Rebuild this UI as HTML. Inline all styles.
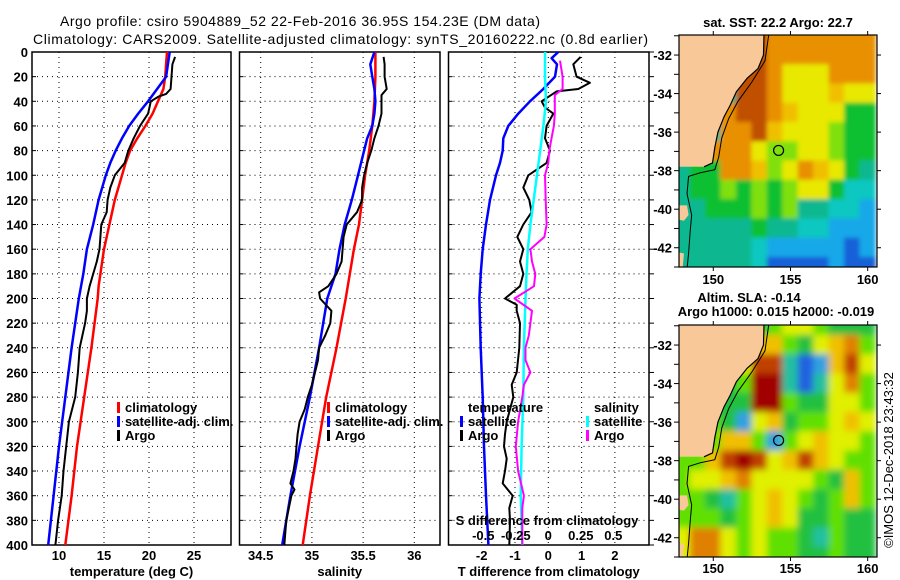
<!DOCTYPE html>
<html><head><meta charset="utf-8"><title>Argo profile</title>
<style>
html,body{margin:0;padding:0;background:#fff;}
svg{display:block;font-family:"Liberation Sans",sans-serif;}
.t{font-weight:bold;font-size:13px;fill:#000;}
</style></head>
<body>
<svg id="fig" width="900" height="580" viewBox="0 0 900 580" xmlns="http://www.w3.org/2000/svg">
<defs>
<clipPath id="clipMap1"><rect x="679" y="35" width="198" height="232"/></clipPath>
<clipPath id="clipMap2"><rect x="679" y="325" width="198" height="232"/></clipPath>
<filter id="blurSST" x="-5%" y="-5%" width="110%" height="110%"><feGaussianBlur stdDeviation="2"/></filter>
<filter id="blurSLA" x="-5%" y="-5%" width="110%" height="110%"><feGaussianBlur stdDeviation="3.5"/></filter>
</defs>
<text x="60" y="26" font-size="14" textLength="480">Argo profile: csiro 5904889_52 22-Feb-2016 36.95S 154.23E (DM data)</text>
<text x="33" y="44" font-size="14" textLength="615">Climatology: CARS2009. Satellite-adjusted climatology: synTS_20160222.nc (0.8d earlier)</text>
<g id="layer"></g>
</svg>
<script>
// ---------- profile data ----------
const redTDepth=[0,10,20,30,40,50,60,70,80,90,100,110,120,130,140,150,160,170,180,190,200,240,280,320,360,400];
const redT=[22.0,21.9,21.8,21.6,21.0,20.4,19.6,18.7,17.9,17.4,17.0,16.6,16.2,15.9,15.6,15.3,15.0,14.8,14.6,14.4,14.3,13.6,12.8,12.0,11.4,10.7];
const blueTDepth=[0,10,20,30,40,50,60,70,80,90,100,120,140,160,180,200,240,280,320,360,400];
const blueT=[22.3,22.1,21.9,20.9,19.9,18.8,17.8,17.0,16.3,15.7,15.2,14.4,13.8,13.1,12.7,12.2,11.4,10.7,10.0,9.4,8.8];
const argoTDepth=[4,10,20,30,34,36,40,50,60,70,80,90,100,110,120,130,140,150,160,170,180,190,200,210,220,240,260,280,300,320,340,350,360,380,400];
const argoT=[22.9,22.6,22.5,22.4,21.9,21.1,20.2,19.9,19.0,18.3,17.7,17.3,16.2,15.7,15.4,15.3,14.7,14.6,14.5,14.2,13.8,13.4,13.1,13.1,12.9,12.3,12.1,11.8,11.1,10.8,10.5,10.4,10.3,9.9,9.6];

const redSDepth=[0,20,40,60,80,100,120,140,160,180,200,240,280,320,360,400];
const redS=[35.62,35.62,35.61,35.59,35.56,35.52,35.49,35.46,35.41,35.37,35.33,35.24,35.14,35.06,34.98,34.91];
const blueSDepth=[0,10,20,30,40,50,60,70,80,100,120,140,160,180,200,240,280,320,360,400];
const blueS=[35.61,35.57,35.59,35.61,35.62,35.61,35.59,35.54,35.51,35.45,35.39,35.32,35.27,35.23,35.15,35.07,34.98,34.88,34.79,34.71];
const argoSDepth=[4,10,20,30,35,40,50,60,70,80,90,100,110,120,130,140,150,160,170,180,190,195,200,210,220,230,240,250,260,270,280,290,300,310,320,330,340,350,355,360,380,400];
const argoS=[35.70,35.71,35.71,35.73,35.68,35.68,35.68,35.65,35.61,35.58,35.54,35.51,35.49,35.49,35.44,35.34,35.31,35.30,35.29,35.24,35.16,35.07,35.08,35.19,35.18,35.13,35.07,35.06,35.03,35.0,34.96,34.93,34.88,34.86,34.85,34.84,34.82,34.79,34.83,34.80,34.75,34.73];

const satDTDepth=[0,5,10,20,30,40,50,60,70,80,90,100,120,140,160,180,200,240,280,320,360,400];
const satDT=[0.3,0.1,0.26,0.2,-0.15,-0.55,-0.9,-1.2,-1.35,-1.37,-1.45,-1.57,-1.75,-1.87,-1.97,-2.03,-2.07,-2.03,-1.97,-1.93,-1.87,-1.8];
const argoDTDepth=[4,10,20,25,30,32,40,45,50,60,70,80,90,100,110,120,130,140,150,160,170,180,190,200,205,210,220,240,260,270,280,290,300,310,320,330,340,350,360,370,380,400];
const argoDT=[0.97,0.75,0.85,1.25,0.9,0.25,-0.2,-0.1,0.15,-0.05,-0.1,0.05,-0.05,-0.6,-0.75,-0.57,-0.5,-0.75,-0.93,-0.75,-0.85,-0.75,-0.85,-1.3,-0.95,-0.95,-0.85,-0.87,-0.95,-1.1,-1.05,-1.15,-1.25,-1.3,-1.33,-1.25,-1.3,-1.37,-1.07,-1.17,-1.15,-1.17];
const satDSDepth=[0,20,40,60,80,100,120,140,160,180,200,240,280,320,360,400];
const satDS=[-0.025,-0.025,-0.018,-0.038,-0.062,-0.088,-0.112,-0.138,-0.158,-0.168,-0.175,-0.188,-0.192,-0.205,-0.212,-0.2];
const argoDSDepth=[7,20,30,35,50,60,70,80,90,100,120,140,150,160,170,180,190,200,210,220,230,240,250,260,270,280,300,320,340,360,370,380,400];
const argoDS=[0.09,0.11,0.11,0.05,0.05,0.043,0.025,0.008,0,-0.025,-0.02,-0.013,-0.03,-0.138,-0.125,-0.1,-0.11,-0.26,-0.125,-0.138,-0.15,-0.175,-0.175,-0.138,-0.188,-0.2,-0.232,-0.25,-0.232,-0.188,-0.2,-0.2,-0.2];

const depthTicks=[0,20,40,60,80,100,120,140,160,180,200,220,240,260,280,300,320,340,360,380,400];
const tempTicks=[10,15,20,25];
const salTicks=[34.5,35,35.5,36];
const dTTicks=[-2,-1,0,1,2];
const dSTicks=[-0.5,-0.25,0,0.25,0.5];
const dSTickLabels=["-0.5","-0.25","0","0.25","0.5"];

// ---------- map data ----------
const mapLats=[-31,-32,-33,-34,-35,-36,-37,-38,-39,-40,-41,-42,-43];
const mapLons=[148,149,150,151,152,153,154,155,156,157,158,159,160];
const sstGrid=[
[3,3,3,3,3,9,8,8,8,8,8,8,8],
[3,3,3,3,3,9,8,8,8,8,8,8,8],
[3,3,3,3,9,9,8,6,6,6,8,8,8],
[3,3,3,3,9,9,8,6,6,6,7,6,6],
[3,3,3,8,9,9,8,7,6,6,6,4,4],
[3,3,3,8,8,9,7,6,6,6,5,4,4],
[3,3,8,8,8,6,5,5,6,6,5,4,4],
[3,4,4,8,8,7,5,6,8,7,6,4,3],
[3,4,4,5,4,5,4,5,6,6,4,2,2],
[3,3,4,4,4,5,4,5,3,3,2,2,1],
[3,3,3,3,3,4,3,3,2,2,1,1,1],
[3,3,3,3,3,2,1,1,1,1,1,0,1],
[3,3,3,3,3,2,0,0,0,0,1,0,0]];
const slaGrid=[
[3,3,3,3,3,3,4,5,5,4,3,3,3],
[3,3,3,3,4,6,6,4,3,5,6,7,4],
[3,3,3,3,5,8,8,2,0,1,6,8,5],
[3,3,3,3,4,9,9,2,0,2,5,7,4],
[3,3,3,3,3,9,9,4,3,3,5,5,4],
[3,3,4,3,1,5,6,3,4,4,5,6,5],
[3,3,4,6,6,4,1,4,5,6,5,5,4],
[4,4,6,8,9,8,5,6,8,6,5,4,4],
[4,5,5,6,7,5,5,5,5,4,3,6,4],
[4,4,3,2,4,5,6,5,4,3,4,6,4],
[4,4,4,3,4,5,6,5,3,3,4,3,3],
[5,7,7,5,4,5,4,4,3,2,4,3,3],
[5,7,7,5,4,5,4,4,3,3,4,3,3]];
const sstColors=["#1560d8","#18a8e8","#10c8c0","#10b890","#10c030","#80e010","#e8e800","#f0c000","#e89000","#c05000"];
const slaColors=["#2060e0","#30a0e0","#20c0a0","#20c040","#60e000","#e0f000","#f0c000","#e08000","#c04000","#a00000"];
const latTicks=[-32,-34,-36,-38,-40,-42];
const lonTicks=[150,155,160];
const argoLon=154.23, argoLat=-36.95;

// ---------- helpers ----------
const NS="http://www.w3.org/2000/svg";
const layer=document.getElementById('layer');
function mk(tag,attrs,parent){const e=document.createElementNS(NS,tag);for(const k in attrs)e.setAttribute(k,attrs[k]);(parent||layer).appendChild(e);return e;}
function txt(x,y,s,anchor,cls){const e=mk('text',{x:x,y:y,'text-anchor':anchor||'middle','class':cls||'t'});e.textContent=s;return e;}

const yD=d=>52+d*1.2325;
const Y0=52,Y1=545;
const panels=[
 {name:'temperature',x0:32,x1:231,sx:v=>32+(v-7)*9,ticks:tempTicks,labels:tempTicks.map(String),title:'temperature (deg C)'},
 {name:'salinity',x0:239.5,x1:440,sx:v=>260.7+(v-34.5)*102.4,ticks:salTicks,labels:["34.5","35","35.5","36"],title:'salinity'},
 {name:'difference',x0:448.5,x1:649,sx:v=>548.3+v*33.3,ticks:dTTicks,labels:dTTicks.map(String),title:'T difference from climatology'}
];
const xS=v=>548.3+v*130;

panels.forEach((p,pi)=>{
  const g=mk('g',{});
  
  
  depthTicks.forEach(d=>{
    if(d>0&&d<400){const l=mk('line',{x1:p.x0,x2:p.x1,y1:yD(d),y2:yD(d),stroke:'#000','stroke-width':1,'stroke-dasharray':'1,4'},g);
      
      }
    const tk=mk('line',{x1:p.x0,x2:p.x0+4,y1:yD(d),y2:yD(d),stroke:'#000','stroke-width':1},g);
    
    
  });
  p.ticks.forEach((v,i)=>{
    const x=p.sx(v);
    const l=mk('line',{x1:x,x2:x,y1:Y0,y2:Y1,stroke:'#000','stroke-width':1,'stroke-dasharray':'1,4'},g);
    
    
    const t=txt(x,560,p.labels[i]);
    
    
  });
  const fr=mk('rect',{x:p.x0,y:Y0,width:p.x1-p.x0,height:Y1-Y0,fill:'none',stroke:'#000','stroke-width':1.5},g);
  
  
  const at=txt((p.x0+p.x1)/2,576,p.title);
  
  
});
depthTicks.forEach(d=>{
  const t=txt(28,yD(d)+5,String(d),'end');
  
  
  const rt=mk('line',{x1:649,x2:654,y1:yD(d),y2:yD(d),stroke:'#000','stroke-width':1});
  
  
});

function series(depths,vals,sx,color,w,name){
  const pts=depths.map((d,i)=>sx(vals[i]).toFixed(1)+','+yD(d).toFixed(1)).join(' ');
  const pl=mk('polyline',{points:pts,fill:'none',stroke:color,'stroke-width':w,'stroke-linejoin':'round'});
  
  
}
series(redTDepth,redT,panels[0].sx,'#ff0000',2.5,'temperature-climatology-line');
series(blueTDepth,blueT,panels[0].sx,'#0000ff',2.5,'temperature-satellite-line');
series(argoTDepth,argoT,panels[0].sx,'#000000',2,'temperature-argo-line');
series(redSDepth,redS,panels[1].sx,'#ff0000',2.5,'salinity-climatology-line');
series(blueSDepth,blueS,panels[1].sx,'#0000ff',2.5,'salinity-satellite-line');
series(argoSDepth,argoS,panels[1].sx,'#000000',2,'salinity-argo-line');
series(satDTDepth,satDT,panels[2].sx,'#0000ff',2.5,'t-diff-satellite-line');
series(argoDTDepth,argoDT,panels[2].sx,'#000000',2,'t-diff-argo-line');
series(satDSDepth,satDS,xS,'#00ffff',2.5,'s-diff-satellite-line');
series(argoDSDepth,argoDS,xS,'#ff00ff',2,'s-diff-argo-line');

const sdt=txt(547,525,'S difference from climatology');


dSTicks.forEach((v,i)=>{
  const t=txt(xS(v),540,dSTickLabels[i]);
  
  
});

function legendEntry(mx,tx,y,color,label,name){
  if(color){const r=mk('rect',{x:mx,y:y-10,width:3,height:11,fill:color});
    
    }
  const t=txt(tx,y,label,'start');
  
  
}
legendEntry(117,125,412,'#ff0000','climatology','legend-entry-climatology');
legendEntry(117,125,426,'#0000ff','satellite-adj. clim.','legend-entry-satellite');
legendEntry(117,125,440,'#000000','Argo','legend-entry-argo');
legendEntry(327,335,412,'#ff0000','climatology','legend-entry-climatology-s');
legendEntry(327,335,426,'#0000ff','satellite-adj. clim.','legend-entry-satellite-s');
legendEntry(327,335,440,'#000000','Argo','legend-entry-argo-s');
legendEntry(460,468,412,null,'temperature','legend-header-temperature');
legendEntry(460,468,426,'#0000ff','satellite','legend-entry-t-satellite');
legendEntry(460,468,440,'#000000','Argo','legend-entry-t-argo');
legendEntry(586,594,412,null,'salinity','legend-header-salinity');
legendEntry(586,594,426,'#00ffff','satellite','legend-entry-s-satellite');
legendEntry(586,594,440,'#ff00ff','Argo','legend-entry-s-argo');

// ---------- maps ----------
function drawMap(top,grid,colors,clipId,filt,name,lonLabelY){
  const bottom=top+232;
  const lx=lon=>679+(lon-147.78)*15.44;
  const ly=lat=>top+(-30.96-lat)*(232/12.04);
  const g=mk('g',{'clip-path':'url(#'+clipId+')'});
  
  
  const cg=mk('g',{filter:'url(#'+filt+')'},g);
  mapLats.forEach((lat,i)=>{
    mapLons.forEach((lon,j)=>{
      const x0=lx(lon-0.5),x1=lx(lon+0.5),y0=ly(lat+0.5),y1=ly(lat-0.5);
      const c=mk('rect',{x:x0-0.5,y:y0-0.5,width:x1-x0+1,height:y1-y0+1,fill:colors[grid[i][j]]},cg);
      
      
    });
  });
  const land=[[147.5,-30.5],[153.3,-30.5],[153.25,-32],[152.9,-32.7],[152.2,-33.2],[151.5,-33.9],[151.1,-34.6],[150.7,-35.2],[150.3,-36],[150.1,-36.8],[149.95,-37.6],[149.4,-37.8],[147.5,-37.8]];
  const lp=mk('polygon',{points:land.map(p=>lx(p[0])+','+ly(p[1])).join(' '),fill:'#f8c898'},g);
  
  
  const isl=[[147.5,-39.8],[148.3,-39.8],[148.4,-40.3],[148.1,-40.6],[147.5,-40.5]];
  const ip=mk('polygon',{points:isl.map(p=>lx(p[0])+','+ly(p[1])).join(' '),fill:'#f8c898'},g);
  
  
  const isl2=[[147.5,-42.2],[148.1,-42.3],[148.0,-43.2],[147.5,-43.2]];
  const ip2=mk('polygon',{points:isl2.map(p=>lx(p[0])+','+ly(p[1])).join(' '),fill:'#f8c898'},g);
  
  
  const shelf=[[153.6,-30.9],[153.35,-32.3],[152.5,-33.4],[151.6,-34.4],[151.0,-35.3],[150.55,-36.3],[150.35,-37.3],[150.1,-37.95],[149.2,-38.1],[148.4,-38.3],[148.3,-39.2],[148.6,-40.3],[148.5,-41.2],[148.4,-42.3],[148.3,-43.1]];
  const sl=mk('polyline',{points:shelf.map(p=>lx(p[0])+','+ly(p[1])).join(' '),fill:'none',stroke:'#000','stroke-width':1},g);
  
  
  const coast=mk('polyline',{points:land.slice(1,12).map(p=>lx(p[0])+','+ly(p[1])).join(' '),fill:'none',stroke:'#000','stroke-width':1.2},g);
  
  
  const c=mk('circle',{cx:lx(argoLon),cy:ly(argoLat),r:5,fill:'none',stroke:'#000','stroke-width':1.2});
  
  
  const fr=mk('rect',{x:679,y:top,width:198,height:232,fill:'none',stroke:'#000','stroke-width':1.2});
  
  
  for(let lat=-31;lat>=-43;lat--){
    const tk=mk('line',{x1:674,x2:679,y1:ly(lat),y2:ly(lat),stroke:'#000','stroke-width':1});
    
    
  }
  latTicks.forEach(lat=>{
    const t=txt(672,ly(lat)+5,String(lat),'end');
    
    
    const rt=mk('line',{x1:877,x2:881,y1:ly(lat),y2:ly(lat),stroke:'#000','stroke-width':1});
    
    
  });
  lonTicks.forEach(lon=>{
    const t=txt(lx(lon),lonLabelY,String(lon));
    
    
    const tk=mk('line',{x1:lx(lon),x2:lx(lon),y1:bottom,y2:bottom+4,stroke:'#000','stroke-width':1});
    
    
    const tt=mk('line',{x1:lx(lon),x2:lx(lon),y1:top-4,y2:top,stroke:'#000','stroke-width':1});
    
    
  });
}
drawMap(35,sstGrid,sstColors,'clipMap1','blurSST','sst-map',284);
drawMap(325,slaGrid,slaColors,'clipMap2','blurSLA','sla-map',573);

const m1=txt(778,27,'sat. SST: 22.2 Argo: 22.7');


const m2=txt(749,302,'Altim. SLA: -0.14');


const m3=txt(776,316,'Argo h1000: 0.015 h2000: -0.019');


const cp=mk('text',{x:0,y:0,'text-anchor':'middle','font-size':13,transform:'translate(893,460) rotate(-90)'});
cp.textContent='©IMOS 12-Dec-2018 23:43:32';


</script>
</body></html>
